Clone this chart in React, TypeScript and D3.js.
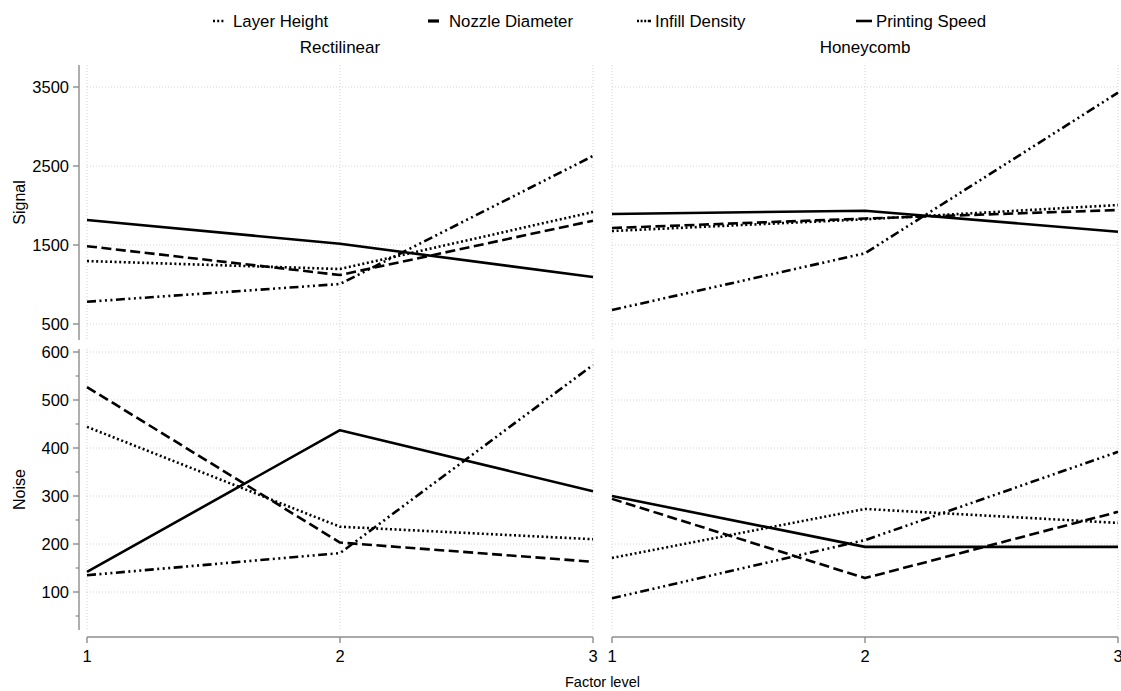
import React from "react";
import * as d3 from "d3";

const levels = [1, 2, 3];
const seriesNames = ["Layer Height", "Nozzle Diameter", "Infill Density", "Printing Speed"];
const panelTitles = ["Rectilinear", "Honeycomb"];
const signalTicks = [500, 1500, 2500, 3500];
const noiseTicks = [100, 200, 300, 400, 500, 600];
const noiseMinorTicks = [50, 150, 250, 350, 450, 550];

// Signal – Rectilinear
const sigRectLayer = [1297, 1196, 1918];
const sigRectNozzle = [1485, 1120, 1808];
const sigRectInfill = [782, 1006, 2627];
const sigRectSpeed = [1816, 1515, 1095];
// Signal – Honeycomb
const sigHoneyLayer = [1677, 1825, 2006];
const sigHoneyNozzle = [1715, 1835, 1943];
const sigHoneyInfill = [677, 1395, 3428];
const sigHoneySpeed = [1892, 1934, 1668];
// Noise – Rectilinear
const noiseRectLayer = [444, 236, 210];
const noiseRectNozzle = [527, 203, 163];
const noiseRectInfill = [135, 181, 573];
const noiseRectSpeed = [142, 437, 310];
// Noise – Honeycomb
const noiseHoneyLayer = [171, 273, 244];
const noiseHoneyNozzle = [294, 129, 267];
const noiseHoneyInfill = [87, 208, 392];
const noiseHoneySpeed = [300, 194, 194];

const dashes = ["2,2.6", "10,4.5", "9,3.5,2,3.5,2,3.5,2,3.5", null];

const FONT = "'Liberation Sans', Arial, Helvetica, sans-serif";
const AXIS = "#8c8c8c";
const GRID = "#d4d4d4";

export default function App() {
  const xLeft = d3.scaleLinear().domain([1, 3]).range([87, 593]);
  const xRight = d3.scaleLinear().domain([1, 3]).range([612, 1118]);
  const ySig = d3.scaleLinear().domain([500, 3500]).range([324, 87]);
  const yNoise = d3.scaleLinear().domain([100, 600]).range([592, 352]);

  const panels = [
    { x: xLeft, y: ySig, data: [sigRectLayer, sigRectNozzle, sigRectInfill, sigRectSpeed], ticks: signalTicks, top: 65, bottom: 340 },
    { x: xRight, y: ySig, data: [sigHoneyLayer, sigHoneyNozzle, sigHoneyInfill, sigHoneySpeed], ticks: signalTicks, top: 65, bottom: 340 },
    { x: xLeft, y: yNoise, data: [noiseRectLayer, noiseRectNozzle, noiseRectInfill, noiseRectSpeed], ticks: noiseTicks, top: 349, bottom: 630 },
    { x: xRight, y: yNoise, data: [noiseHoneyLayer, noiseHoneyNozzle, noiseHoneyInfill, noiseHoneySpeed], ticks: noiseTicks, top: 349, bottom: 630 },
  ];

  const legendItems = [
    { kx: 213, kw: 12, tx: 233 },
    { kx: 428, kw: 11, tx: 449 },
    { kx: 637, kw: 14, tx: 655 },
    { kx: 856, kw: 16, tx: 876 },
  ];

  const axisY = 637;

  return (
    <svg width={1121} height={691} style={{ position: "absolute", left: 0, top: 0, background: "#fff" }} fontFamily={FONT}>
      <rect x={0} y={0} width={1121} height={691} fill="#fff" />
      {/* legend */}
      {legendItems.map((it, i) => (
        <g key={i}>
          <line x1={it.kx} x2={it.kx + it.kw} y1={21} y2={21} stroke="#000" strokeWidth={i === 1 ? 3.2 : 2.6}
            strokeDasharray={i === 0 ? "2,2.2" : i === 2 ? "2,1.6,2,1.6,2,1.6,4" : undefined} />
          <text x={it.tx} y={21} dy="0.36em" fontSize={16.8} fill="#000">{seriesNames[i]}</text>
        </g>
      ))}
      {/* panel titles */}
      {panelTitles.map((t, i) => {
        const xs = i === 0 ? xLeft : xRight;
        return (
          <text key={t} x={(xs(1) + xs(3)) / 2} y={46.5} dy="0.36em" textAnchor="middle" fontSize={17} fill="#000">{t}</text>
        );
      })}
      {panels.map((p, pi) => {
        const line = d3.line<number>().x((_, i) => p.x(levels[i])).y((v) => p.y(v));
        const [x0, x1] = p.x.range();
        return (
          <g key={pi}>
            {/* horizontal grid */}
            {p.ticks.map((t) => (
              <line key={"h" + t} x1={x0} x2={x1} y1={p.y(t)} y2={p.y(t)} stroke={GRID} strokeWidth={1} strokeDasharray="1,2" />
            ))}
            {/* vertical grid */}
            {levels.map((l) => (
              <line key={"v" + l} x1={p.x(l)} x2={p.x(l)} y1={p.top} y2={p.bottom} stroke={GRID} strokeWidth={1} strokeDasharray="1,2" />
            ))}
            {p.data.map((d, si) => (
              <path key={si} d={line(d) || ""} fill="none" stroke="#000" strokeWidth={2.6}
                strokeDasharray={dashes[si] || undefined} strokeLinejoin="round" />
            ))}
          </g>
        );
      })}
      {/* y axes */}
      {[{ y: ySig, ticks: signalTicks, minor: [] as number[], top: 65, bottom: 340, label: "Signal" },
        { y: yNoise, ticks: noiseTicks, minor: noiseMinorTicks, top: 349, bottom: 630, label: "Noise" }].map((a, ai) => (
        <g key={"ya" + ai}>
          <line x1={79} x2={79} y1={a.top} y2={a.bottom} stroke={AXIS} strokeWidth={1.4} />
          {a.ticks.map((t) => (
            <g key={t}>
              <line x1={73} x2={79} y1={a.y(t)} y2={a.y(t)} stroke={AXIS} strokeWidth={1.4} />
              <text x={69} y={a.y(t)} dy="0.36em" textAnchor="end" fontSize={16.5} fill="#000">{t}</text>
            </g>
          ))}
          {a.minor.map((t) => (
            <line key={"m" + t} x1={75.5} x2={79} y1={a.y(t)} y2={a.y(t)} stroke={AXIS} strokeWidth={1.2} />
          ))}
          <text transform={`translate(19,${(a.top + a.bottom) / 2}) rotate(-90)`} dy="0.36em" textAnchor="middle" fontSize={16} fill="#000">{a.label}</text>
        </g>
      ))}
      {/* x axes */}
      {[xLeft, xRight].map((xs, i) => (
        <g key={"xa" + i}>
          <line x1={xs(1)} x2={xs(3)} y1={axisY} y2={axisY} stroke={AXIS} strokeWidth={1.4} />
          {xs.ticks(3).filter((t) => Number.isInteger(t)).map((t) => (
            <g key={t}>
              <line x1={xs(t)} x2={xs(t)} y1={axisY} y2={axisY + 6} stroke={AXIS} strokeWidth={1.4} />
              <text x={xs(t)} y={656} dy="0.36em" textAnchor="middle" fontSize={16.5} fill="#000">{t}</text>
            </g>
          ))}
        </g>
      ))}
      <text x={(xLeft(1) + xRight(3)) / 2} y={682} dy="0.36em" textAnchor="middle" fontSize={14.5} fill="#000">Factor level</text>
    </svg>
  );
}
